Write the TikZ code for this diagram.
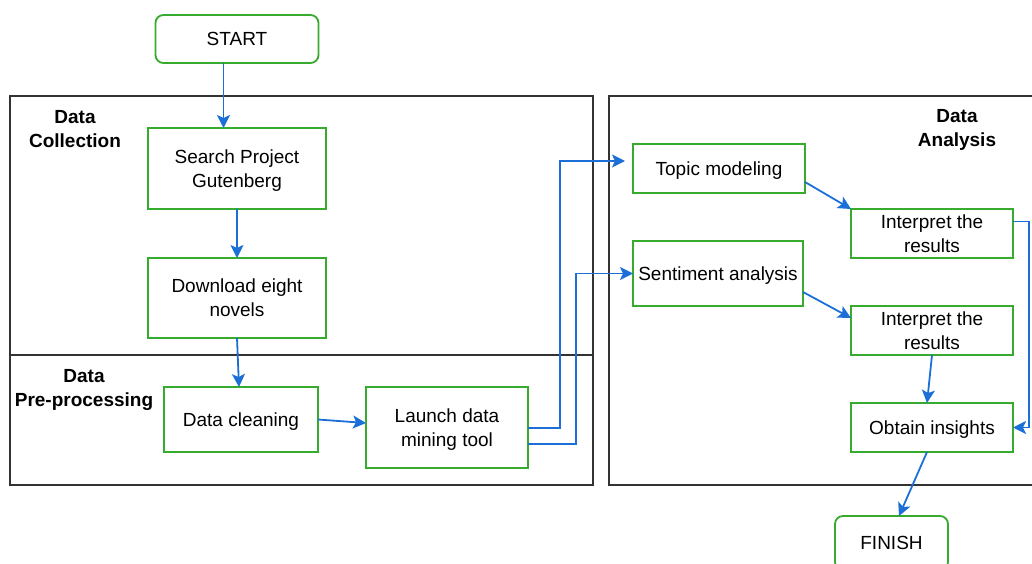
\documentclass[tikz,border=0pt]{standalone}
\usepackage{fontspec}
\setmainfont{Liberation Sans}
\usetikzlibrary{positioning, arrows.meta}
\definecolor{flowgreen}{HTML}{36AB2E}
\definecolor{flowblue}{HTML}{1C6FD6}
\definecolor{framegray}{HTML}{333333}

\begin{document}
\begin{tikzpicture}[
  x=1pt, y=-1pt,
  every node/.style={font=\fontsize{19}{24}\selectfont},
  task/.style={
    rectangle, draw=flowgreen, line width=1.8pt,
    align=center, inner sep=1pt, outer sep=0pt, text depth=0pt
  },
  term/.style={task, rounded corners=8pt},
  stage/.style={draw=framegray, line width=1.6pt},
  stagelabel/.style={align=center, font=\fontsize{19}{24}\selectfont\bfseries},
  arr/.style={-{Stealth[length=13pt, width=13pt, inset=3pt]}, line width=1.8pt, color=flowblue},
]
\path[use as bounding box, clip] (0,0) rectangle (1032,564);

% Stage frames
\draw[stage] (10,96) rectangle (593,355);
\draw[stage] (10,355) rectangle (593,485);
\draw[stage] (609,96) rectangle (1045,485);

\node[stagelabel] (collectlbl) at (75,129) {Data\\Collection};
\node[stagelabel] (preplbl) at (84,390) {Data\\Pre-processing};
\node[stagelabel] (analysislbl) at (957,130) {Data\\Analysis};

% Collection and pre-processing
\node[task, minimum width=178pt, minimum height=81pt] (search) at (237,168.5) {Search Project\\Gutenberg};
\node[term, minimum width=163pt, minimum height=48pt, above=65pt of search] (start) {START};
\node[task, minimum width=178pt, minimum height=80pt, below=49pt of search] (download) {Download eight\\novels};
\node[task, minimum width=154pt, minimum height=65pt] (clean) at (241,419.5) {Data cleaning};
\node[task, minimum width=162pt, minimum height=81pt] (launch) at (447,427.5) {Launch data\\mining tool};

% Analysis
\node[task, minimum width=172pt, minimum height=49pt] (topic) at (719,168.5) {Topic modeling};
\node[task, minimum width=170pt, minimum height=65pt] (senti) at (718,273.5) {Sentiment analysis};
\node[task, minimum width=162pt, minimum height=49pt] (interpa) at (932,233.5) {Interpret the\\results};
\node[task, minimum width=162pt, minimum height=49pt, below=48pt of interpa] (interpb) {Interpret the\\results};
\node[task, minimum width=162pt, minimum height=49pt, below=48pt of interpb] (insights) {Obtain insights};
\node[term, minimum width=113pt, minimum height=54pt] (finish) at (891.5,543) {FINISH};

% Arrows
\draw[arr] ([xshift=-13.5pt]start.south) -- ([xshift=-13.5pt]start.south |- search.north);
\draw[arr] (search) -- (download);
\draw[arr] (download.south) -- ([xshift=-2pt]clean.north);
\draw[arr] (clean.east) -- ([yshift=4.5pt]launch.west);
\draw[arr] ([yshift=-0.5pt]launch.east) -- ++(32pt,0) |- ([xshift=-8pt,yshift=7.5pt]topic.west);
\draw[arr] ([yshift=-16.5pt]launch.east) -- ++(48pt,0) |- (senti.west);
\draw[arr] ([yshift=-13.5pt]topic.east) -- (interpa.north west);
\draw[arr] ([yshift=-18.5pt]senti.east) -- ([yshift=12.5pt]interpb.west);
\draw[arr] ([yshift=12pt]interpa.east) -- ++(16pt,0) |- (insights.east);
\draw[arr] (interpb.south) -- ([xshift=-5pt]insights.north);
\draw[arr] ([xshift=-5pt]insights.south) -- ([xshift=7.5pt]finish.north);

\end{tikzpicture}
\end{document}
